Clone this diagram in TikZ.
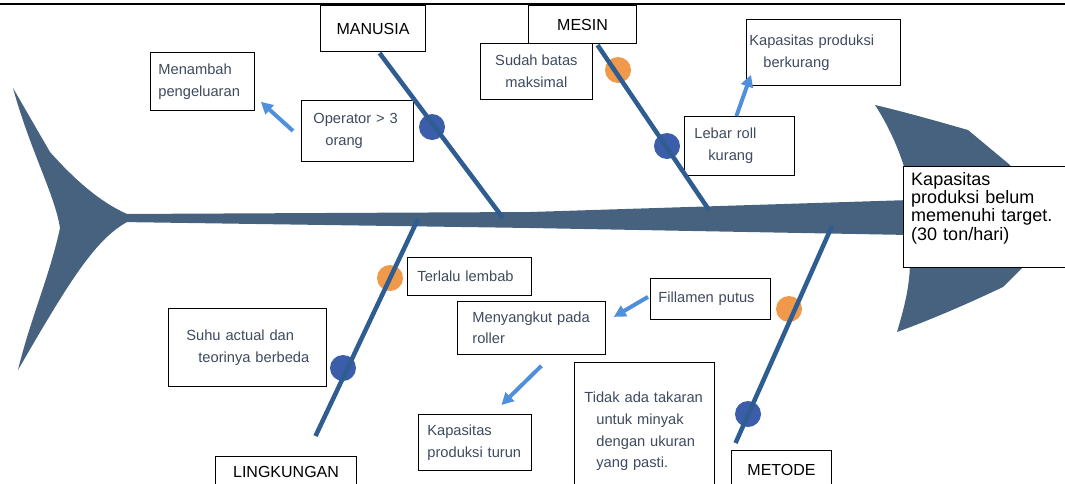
\documentclass[tikz,border=0pt]{standalone}
\usepackage{fontspec}
\setmainfont{Liberation Sans}
\usetikzlibrary{arrows.meta, calc}

\definecolor{fishcol}{HTML}{46627F}
\definecolor{bonecol}{HTML}{2F5D91}
\definecolor{dotblue}{HTML}{3C5DAA}
\definecolor{dotorange}{HTML}{F0994B}
\definecolor{arrcol}{HTML}{4F8FDB}
\definecolor{txtcol}{HTML}{3E4B5E}

\begin{document}
\begin{tikzpicture}[x=0.75pt, y=-0.75pt,
    box/.style={rectangle, draw=black, line width=0.6pt, fill=white, anchor=north west, inner ysep=0pt, align=left, text=txtcol, font=\fontsize{11}{16.25}\selectfont},
    cat/.style={box, align=center, text=black, line width=0.8pt, font=\fontsize{12}{14}\selectfont},
    dot/.style={circle, inner sep=0pt, minimum size=19.5pt},
    bone/.style={draw=bonecol, line width=3.4pt},
    arrow/.style={-{Triangle[length=9pt, width=9pt]}, draw=arrcol, line width=3pt}
  ]
  \useasboundingbox (0,0) rectangle (1065,483);

  % line along the top
  \draw[line width=1.4pt] (0,4) -- (1065,4);

  % fish: tail, spine, head
  \fill[fishcol] (13,88) -- (50,152) .. controls (75,180) and (100,202) .. (127,214) -- (127,222)
    .. controls (95,240) and (70,280) .. (18,370) .. controls (30,320) and (50,275) .. (60,228)
    .. controls (55,195) and (30,150) .. (13,88) -- cycle;
  \fill[fishcol] (120,214) -- (530,212) -- (910,200) -- (910,235) -- (530,228) -- (120,222) -- cycle;
  \fill[fishcol] (875,105) .. controls (905,112) and (940,122) .. (968,130) -- (1010,165) -- (1040,215)
    -- (1023,267) -- (1003,287) .. controls (965,305) and (930,320) .. (897,332)
    .. controls (905,305) and (910,285) .. (910,260) -- (908,180) .. controls (900,150) and (888,125) .. (875,105) -- cycle;

  % causes marked on the bones
  \node[dot, fill=dotblue] (d1) at (432,127) {};
  \node[dot, fill=dotorange] (d2) at (618,70) {};
  \node[dot, fill=dotblue] (d3) at (667,146) {};
  \node[dot, fill=dotorange] (d4) at (390,278) {};
  \node[dot, fill=dotblue] (d5) at (343,368) {};
  \node[dot, fill=dotorange] (d6) at (789,309) {};
  \node[dot, fill=dotblue] (d7) at (748,414) {};

  % boxes
  \node[cat, minimum width=78.75pt, minimum height=34.5pt] (manusia) at (320,5) {MANUSIA};
  \node[box, align=center, minimum width=84pt, minimum height=42pt] (sudah) at (480,43) {Sudah batas\\maksimal};
  \node[cat, minimum width=81pt, minimum height=28.5pt] (mesin) at (528,5) {MESIN};
  \node[box, text width=66pt, inner xsep=6pt, minimum height=43.5pt] (menambah) at (150,52) {Menambah\\pengeluaran};
  \node[box, text width=66pt, inner xsep=9pt, minimum height=45.75pt] (operator) at (301,100) {Operator > 3\\\hspace*{9pt}orang};
  \node[box, text width=111pt, inner xsep=2.25pt, minimum height=49.5pt] (berkurang) at (746,19) {Kapasitas produksi\\\hspace*{10.5pt}berkurang};
  \node[box, text width=67.5pt, inner xsep=7.5pt, minimum height=44.25pt] (lebar) at (684,116) {Lebar roll\\\hspace*{10.5pt}kurang};
  \node[box, text=black, font=\fontsize{13.5}{13.75}\selectfont, text width=112pt, inner xsep=5.875pt, minimum height=75.75pt] (target) at (903,166) {Kapasitas\\produksi belum\\\mbox{memenuhi target.}\\(30 ton/hari)\rule[-16pt]{0pt}{16pt}};
  \node[box, text width=78pt, inner xsep=7.5pt, minimum height=28.5pt] (lembab) at (407,257) {Terlalu lembab};
  \node[box, text width=91.5pt, inner xsep=13.5pt, minimum height=58.5pt] (suhu) at (168,308) {Suhu actual dan\\\hspace*{9pt}teorinya~berbeda};
  \node[box, text width=88.5pt, inner xsep=11.25pt, minimum height=39.75pt] (nyangkut) at (457,301) {Menyangkut pada\\roller};
  \node[box, text width=71.25pt, inner xsep=6.75pt, minimum height=42pt] (turun) at (418,414) {Kapasitas\\produksi~turun};
  \node[cat, minimum width=105.75pt, minimum height=22.5pt] (lingkungan) at (215,456) {LINGKUNGAN};
  \node[box, text width=78pt, inner xsep=6pt, minimum height=30.75pt] (filamen) at (650,278) {Fillamen putus};
  \node[box, text width=90pt, inner xsep=7.5pt, minimum height=103.5pt] (takaran) at (574,362) {Tidak~ada~takaran\\\hspace*{9pt}untuk minyak\\\hspace*{9pt}dengan ukuran\\\hspace*{9pt}yang pasti.};
  \node[cat, minimum width=75pt, minimum height=28.5pt] (metode) at (731,450) {METODE};

  % bones
  \coordinate (jM) at (503,218);
  \coordinate (jS) at (709,210);
  \coordinate (jL) at (418,219);
  \coordinate (jT) at (832,226);
  \draw[bone] ($(manusia.south)+(6.5,1)$) -- (jM);
  \draw[bone] ($(mesin.south)+(15,1)$) -- (jS);
  \draw[bone] (jL) -- ($(lingkungan.north)+(29.5,-20)$);
  \draw[bone] (jT) -- ($(metode.north)+(-46,-7)$);

  % effects
  \draw[arrow] ($(operator.west)+(-8,0)$) -- ($(menambah.south east)+(6,-9)$);
  \draw[arrow] ($(lebar.north)+(-3,0)$) -- ($(berkurang.south west)+(5,-11)$);
  \draw[arrow] ($(filamen.west)+(-2,-2)$) -- ($(nyangkut.east)+(8,-11)$);
  \draw[arrow] ($(nyangkut.south)+(10,11)$) -- ($(turun.north)+(26.5,-9)$);
\end{tikzpicture}
\end{document}
